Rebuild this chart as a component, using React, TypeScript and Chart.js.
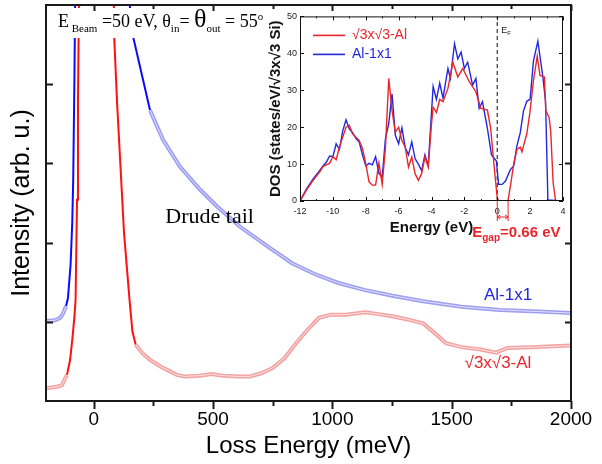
import React, { useEffect, useRef } from "react";
import { Chart, registerables } from "chart.js";

Chart.register(...registerables);

const SANS = "'Liberation Sans', Arial, Helvetica, sans-serif";
const SERIF = "'Liberation Serif', 'Times New Roman', serif";

// ---------- main EELS spectra ----------
const lossTicks = [0, 500, 1000, 1500, 2000];
const lossMinorTicks = [250, 750, 1250, 1750];
const intensityTicks = [1, 2, 3, 4];

const al1x1Loss = [-200, -162, -141, -129, -116, -108, -97, -90, -86, -81, -78, 0, 140, 165, 194, 236, 290, 361, 445, 516, 613, 739, 831, 928, 1025, 1138, 1251, 1380, 1541, 1702, 1863, 2000];
const al1x1Int = [1.01, 1.02, 1.05, 1.1, 1.2, 1.3, 1.72, 2.25, 2.79, 4.05, 5.0, 60, 5.3, 4.6, 4.22, 3.67, 3.3, 2.96, 2.67, 2.46, 2.2, 1.93, 1.74, 1.6, 1.49, 1.4, 1.33, 1.26, 1.19, 1.15, 1.13, 1.11];

const r3Loss = [-200, -154, -133, -112, -99, -90, -81, -76, -70, -66, -62, 0, 85, 98, 118, 127, 150, 162, 176, 205, 236, 283, 316, 348, 380, 445, 493, 541, 606, 654, 703, 751, 799, 848, 896, 944, 993, 1057, 1138, 1186, 1251, 1315, 1380, 1428, 1476, 1541, 1621, 1686, 1734, 1831, 1927, 2000];
const r3Int = [0.16, 0.18, 0.2, 0.33, 0.52, 0.77, 1.06, 1.28, 2.54, 3.8, 5.0, 60, 4.65, 3.76, 2.63, 2.12, 1.28, 0.88, 0.71, 0.6, 0.52, 0.43, 0.38, 0.33, 0.31, 0.32, 0.34, 0.32, 0.31, 0.31, 0.35, 0.42, 0.54, 0.73, 0.9, 1.05, 1.09, 1.09, 1.12, 1.1, 1.07, 1.03, 0.98, 0.86, 0.73, 0.68, 0.65, 0.61, 0.67, 0.68, 0.69, 0.7];

// ---------- inset DOS ----------
const energyTicks = [-12, -10, -8, -6, -4, -2, 0, 2, 4];
const energyMinorTicks = [-11, -9, -7, -5, -3, -1, 1, 3];
const dosTicks = [0, 10, 20, 30, 40, 50];
const gapEnd = 0.66;

const dosR3E = [-12, -11.6, -11.2, -10.8, -10.6, -10.4, -10.2, -10.0, -9.8, -9.6, -9.4, -9.2, -9.0, -8.8, -8.6, -8.4, -8.2, -8.0, -7.8, -7.6, -7.4, -7.2, -7.0, -6.8, -6.6, -6.4, -6.2, -6.0, -5.8, -5.6, -5.4, -5.2, -5.0, -4.8, -4.6, -4.4, -4.2, -4.0, -3.9, -3.7, -3.5, -3.3, -3.0, -2.7, -2.4, -2.1, -1.7, -1.3, -1.0, -0.6, -0.4, -0.16, 0, 0.1, 0.65, 0.8, 1.0, 1.2, 1.4, 1.5, 1.6, 1.8, 2.0, 2.2, 2.43, 2.6, 2.87, 2.95, 3.15, 3.25, 3.4, 3.55, 4.0];
const dosR3V = [0, 3, 5.6, 7.9, 9.3, 9.8, 10.2, 12, 11.2, 14.6, 17.3, 20, 20.5, 18.2, 17.3, 16.4, 14.2, 10.1, 5.2, 4.3, 4.3, 10.3, 4.5, 14.6, 33.2, 24.5, 18.6, 20, 16.4, 14.6, 9.2, 11.9, 7.4, 5.6, 7.4, 11.9, 9.2, 20.9, 25.4, 24, 27.5, 26.9, 30.5, 37.6, 33.6, 35.9, 32.3, 29.6, 25.1, 24.6, 19.7, 8, 0.8, 0, 0, 4, 10, 14, 14.6, 13.3, 15, 18.2, 24.5, 32.5, 39.2, 34, 33.6, 24.5, 22.7, 19, 5, 0, 0];

const dosAlE = [-12, -11.6, -11.2, -10.8, -10.6, -10.4, -10.2, -10.0, -9.8, -9.6, -9.4, -9.2, -9.0, -8.8, -8.6, -8.4, -8.2, -8.0, -7.8, -7.6, -7.4, -7.2, -7.0, -6.8, -6.6, -6.4, -6.2, -6.0, -5.8, -5.6, -5.4, -5.2, -5.0, -4.8, -4.6, -4.4, -4.2, -4.0, -3.9, -3.7, -3.5, -3.3, -3.0, -2.85, -2.6, -2.4, -2.2, -2.0, -1.8, -1.5, -1.3, -1.1, -0.9, -0.6, -0.35, -0.05, 0.08, 0.3, 0.5, 0.8, 1.0, 1.2, 1.4, 1.6, 1.8, 2.0, 2.2, 2.47, 2.78, 2.94, 3.08, 4.0];
const dosAlV = [0, 3.3, 6, 8.3, 9.5, 10.5, 12.2, 12, 15.5, 14, 19, 22, 19.5, 18.5, 17, 16, 12.5, 9.5, 10.2, 9.8, 12, 7.5, 6.5, 17, 21, 29, 17.8, 15.5, 19.8, 14.5, 12.5, 16, 11.5, 10, 8.2, 12.5, 9.5, 24, 31, 27.5, 31.9, 27.9, 35.9, 33.2, 42.6, 38.5, 40.3, 35.9, 37.6, 31.4, 33.2, 25.1, 26.9, 19.7, 12.5, 10.8, 4.5, 4.5, 5.4, 8.5, 9.5, 15, 18.5, 24.5, 27, 27.6, 37.9, 43.3, 33.4, 27, 0.3, 0];

const RED = "#e8262b";
const BLUE = "#2327e0";

const pts = (xs: number[], ys: number[]) => xs.map((x, i) => ({ x, y: ys[i] }));

const isSteep = (c: any) => {
  const dx = Math.abs(c.p1.x - c.p0.x);
  const dy = Math.abs(c.p1.y - c.p0.y);
  return dy > 2.6 * dx;
};

const bandSet = (data: any[], strong: string, pale: string) => ({
  data,
  pointRadius: 0,
  borderColor: pale,
  borderWidth: 4,
  segment: {
    borderColor: (c: any) => (isSteep(c) ? strong : pale),
    borderWidth: (c: any) => (isSteep(c) ? 2 : 4),
  },
});
const innerSet = (data: any[]) => ({
  data,
  pointRadius: 0,
  borderColor: "rgba(255,255,255,0.7)",
  borderWidth: 1,
  segment: {
    borderColor: (c: any) => (isSteep(c) ? "rgba(0,0,0,0)" : "rgba(255,255,255,0.7)"),
  },
});

const mainDecor = {
  id: "mainDecor",
  afterDatasetsDraw(chart: any) {
    const { ctx, chartArea: a, scales } = chart;
    const x = scales.x, y = scales.y;
    ctx.save();
    // annotation with white background
    ctx.fillStyle = "#fff";
    ctx.fillRect(a.left + 6, a.top + 3, 218, 30);
    const runs = [
      { t: "E", s: 18, dy: 0 },
      { t: " Beam", s: 11, dy: 5 },
      { t: " =50 eV, θ", s: 18, dy: 0 },
      { t: "in", s: 11, dy: 5 },
      { t: "= ", s: 18, dy: 0 },
      { t: "θ", s: 26, dy: 0 },
      { t: "out", s: 11, dy: 5 },
      { t: " = 55", s: 18, dy: 0 },
      { t: "o", s: 11, dy: -7 },
    ];
    let cx = a.left + 12;
    const base = a.top + 22;
    ctx.fillStyle = "#000";
    ctx.textBaseline = "alphabetic";
    ctx.textAlign = "left";
    for (const r of runs) {
      ctx.font = `${r.s}px ${SERIF}`;
      ctx.fillText(r.t, cx, base + r.dy);
      cx += ctx.measureText(r.t).width;
    }
    // labels
    ctx.font = `22px ${SERIF}`;
    ctx.fillText("Drude tail", x.getPixelForValue(300), y.getPixelForValue(2.25));
    ctx.textAlign = "center";
    ctx.textBaseline = "middle";
    ctx.font = `17px ${SANS}`;
    ctx.fillStyle = BLUE;
    ctx.fillText("Al-1x1", x.getPixelForValue(1736), y.getPixelForValue(1.34));
    ctx.fillStyle = RED;
    ctx.fillText("√3x√3-Al", x.getPixelForValue(1694), y.getPixelForValue(0.47));
    ctx.restore();
  },
  afterDraw(chart: any) {
    const { ctx, chartArea: a, scales } = chart;
    const x = scales.x, y = scales.y;
    ctx.save();
    ctx.strokeStyle = "#1a1a1a";
    ctx.lineWidth = 2;
    ctx.strokeRect(a.left, a.top, a.right - a.left, a.bottom - a.top);
    ctx.beginPath();
    for (const v of lossTicks) {
      const px = Math.round(x.getPixelForValue(v)) + 0.5;
      ctx.moveTo(px, a.bottom); ctx.lineTo(px, a.bottom + 8);
      ctx.moveTo(px, a.top); ctx.lineTo(px, a.top + 6);
    }
    for (const v of lossMinorTicks) {
      const px = Math.round(x.getPixelForValue(v)) + 0.5;
      ctx.moveTo(px, a.bottom); ctx.lineTo(px, a.bottom + 5);
      ctx.moveTo(px, a.top); ctx.lineTo(px, a.top + 4);
    }
    for (const v of intensityTicks) {
      const py = Math.round(y.getPixelForValue(v)) + 0.5;
      ctx.moveTo(a.left, py); ctx.lineTo(a.left + 7, py);
      ctx.moveTo(a.right, py); ctx.lineTo(a.right - 6, py);
    }
    ctx.stroke();
    ctx.restore();
  },
};

const insetDecor = {
  id: "insetDecor",
  beforeDraw(chart: any) {
    const { ctx, chartArea: a } = chart;
    ctx.save();
    ctx.fillStyle = "#fff";
    ctx.fillRect(a.left, a.top, a.right - a.left, a.bottom - a.top);
    ctx.restore();
  },
  beforeDatasetsDraw(chart: any) {
    const { ctx, chartArea: a, scales } = chart;
    const x = scales.x;
    const x0 = x.getPixelForValue(0);
    ctx.save();
    ctx.strokeStyle = "#333";
    ctx.lineWidth = 1.2;
    ctx.setLineDash([4, 3]);
    ctx.beginPath();
    ctx.moveTo(x0, a.bottom);
    ctx.lineTo(x0, a.top);
    ctx.stroke();
    ctx.setLineDash([]);
    ctx.fillStyle = "#222";
    ctx.textBaseline = "alphabetic";
    ctx.textAlign = "left";
    ctx.font = `9px ${SANS}`;
    ctx.fillText("E", x0 + 4, a.top + 17);
    const w = ctx.measureText("E").width;
    ctx.font = `6px ${SANS}`;
    ctx.fillText("F", x0 + 4 + w, a.top + 19);
    ctx.restore();
  },
  afterDraw(chart: any) {
    const { ctx, chartArea: a, scales } = chart;
    const x = scales.x, y = scales.y;
    ctx.save();
    ctx.strokeStyle = "#111";
    ctx.lineWidth = 1;
    ctx.strokeRect(a.left + 0.5, a.top + 0.5, a.right - a.left - 1, a.bottom - a.top - 1);
    ctx.beginPath();
    for (const v of energyTicks) {
      const px = Math.round(x.getPixelForValue(v)) + 0.5;
      ctx.moveTo(px, a.bottom); ctx.lineTo(px, a.bottom - 4);
      ctx.moveTo(px, a.top); ctx.lineTo(px, a.top + 4);
    }
    for (const v of energyMinorTicks) {
      const px = Math.round(x.getPixelForValue(v)) + 0.5;
      ctx.moveTo(px, a.bottom); ctx.lineTo(px, a.bottom - 2);
      ctx.moveTo(px, a.top); ctx.lineTo(px, a.top + 2);
    }
    for (const v of dosTicks) {
      const py = Math.round(y.getPixelForValue(v)) + 0.5;
      ctx.moveTo(a.left, py); ctx.lineTo(a.left + 4, py);
      ctx.moveTo(a.right, py); ctx.lineTo(a.right - 4, py);
    }
    ctx.stroke();

    // legend
    ctx.lineWidth = 1.6;
    ctx.strokeStyle = RED;
    ctx.beginPath();
    ctx.moveTo(a.left + 13, a.top + 19); ctx.lineTo(a.left + 45, a.top + 19);
    ctx.stroke();
    ctx.strokeStyle = BLUE;
    ctx.beginPath();
    ctx.moveTo(a.left + 13, a.top + 38); ctx.lineTo(a.left + 45, a.top + 38);
    ctx.stroke();
    ctx.font = `14px ${SANS}`;
    ctx.textBaseline = "middle";
    ctx.textAlign = "left";
    ctx.fillStyle = RED;
    ctx.fillText("√3x√3-Al", a.left + 52, a.top + 19);
    ctx.fillStyle = BLUE;
    ctx.fillText("Al-1x1", a.left + 52, a.top + 38);

    // gap bracket
    const g0 = x.getPixelForValue(0);
    const g1 = x.getPixelForValue(gapEnd);
    ctx.strokeStyle = RED;
    ctx.lineWidth = 1;
    ctx.beginPath();
    ctx.moveTo(g0, a.bottom); ctx.lineTo(g0, a.bottom + 20);
    ctx.moveTo(g1, a.bottom); ctx.lineTo(g1, a.bottom + 20);
    const hy = a.bottom + 16;
    ctx.moveTo(g0, hy); ctx.lineTo(g1, hy);
    ctx.moveTo(g0 + 3, hy - 2); ctx.lineTo(g0, hy); ctx.lineTo(g0 + 3, hy + 2);
    ctx.moveTo(g1 - 3, hy - 2); ctx.lineTo(g1, hy); ctx.lineTo(g1 - 3, hy + 2);
    ctx.stroke();
    ctx.fillStyle = RED;
    ctx.textBaseline = "alphabetic";
    let tx = g0 - 25;
    const tb = a.bottom + 36;
    ctx.font = `bold 15px ${SANS}`;
    ctx.fillText("E", tx, tb);
    tx += ctx.measureText("E").width;
    ctx.font = `bold 10px ${SANS}`;
    ctx.fillText("gap", tx, tb + 4);
    tx += ctx.measureText("gap").width;
    ctx.font = `bold 15px ${SANS}`;
    ctx.fillText("=0.66 eV", tx, tb);
    ctx.restore();
  },
};

export default function App() {
  const mainRef = useRef<HTMLCanvasElement>(null);
  const insetRef = useRef<HTMLCanvasElement>(null);

  useEffect(() => {
    document.body.style.margin = "0";
    document.body.style.overflow = "hidden";
    const blue = pts(al1x1Loss, al1x1Int);
    const red = pts(r3Loss, r3Int);

    const main = new Chart(mainRef.current as HTMLCanvasElement, {
      type: "line",
      data: {
        datasets: [
          innerSet(blue),
          bandSet(blue, "#0a0aff", "#9d9df2"),
          innerSet(red),
          bandSet(red, "#ff1010", "#f3a2a2"),
        ] as any,
      },
      options: {
        animation: false,
        responsive: false,
        maintainAspectRatio: false,
        parsing: false,
        layout: { padding: { left: 0, right: 31, top: 5, bottom: 0 } },
        plugins: { legend: { display: false }, tooltip: { enabled: false } },
        scales: {
          x: {
            type: "linear",
            min: -200,
            max: 2000,
            afterBuildTicks: (s: any) => { s.ticks = lossTicks.map((v) => ({ value: v })); },
            afterFit: (s: any) => { s.height = 63; },
            grid: { display: false, drawTicks: false },
            border: { display: false },
            ticks: { color: "#000", font: { family: SANS, size: 19 }, padding: 7, maxRotation: 0, callback: (v: any) => String(v) },
            title: { display: true, text: "Loss Energy (meV)", color: "#000", font: { family: SANS, size: 24 }, padding: { top: 0, bottom: 3 } },
          },
          y: {
            type: "linear",
            min: 0,
            max: 5,
            afterBuildTicks: (s: any) => { s.ticks = intensityTicks.map((v) => ({ value: v })); },
            afterFit: (s: any) => { s.width = 46; },
            grid: { display: false, drawTicks: false },
            border: { display: false },
            ticks: { display: false },
            title: { display: true, text: "Intensity (arb. u.)", color: "#000", font: { family: SANS, size: 25 }, padding: { top: 7, bottom: 0 } },
          },
        },
      } as any,
      plugins: [mainDecor],
    });

    const inset = new Chart(insetRef.current as HTMLCanvasElement, {
      type: "line",
      data: {
        datasets: [
          { data: pts(dosR3E, dosR3V), borderColor: RED, borderWidth: 1.4, pointRadius: 0 },
          { data: pts(dosAlE, dosAlV), borderColor: BLUE, borderWidth: 1.4, pointRadius: 0 },
        ],
      },
      options: {
        animation: false,
        responsive: false,
        maintainAspectRatio: false,
        parsing: false,
        layout: { padding: { left: 0, right: 9, top: 7, bottom: 0 } },
        plugins: { legend: { display: false }, tooltip: { enabled: false } },
        scales: {
          x: {
            type: "linear",
            min: -12,
            max: 4,
            afterBuildTicks: (s: any) => { s.ticks = energyTicks.map((v) => ({ value: v })); },
            afterFit: (s: any) => { s.height = 47; },
            grid: { display: false, drawTicks: false },
            border: { display: false },
            ticks: { color: "#222", font: { family: SANS, size: 9 }, padding: 5, maxRotation: 0, callback: (v: any) => String(v) },
            title: { display: true, text: "Energy (eV)", color: "#111", font: { family: SANS, size: 15, weight: "bold" }, padding: { top: 0, bottom: 11 } },
          },
          y: {
            type: "linear",
            min: 0,
            max: 50,
            afterBuildTicks: (s: any) => { s.ticks = dosTicks.map((v) => ({ value: v })); },
            afterFit: (s: any) => { s.width = 38; },
            grid: { display: false, drawTicks: false },
            border: { display: false },
            ticks: { color: "#222", font: { family: SANS, size: 9 }, padding: 3, callback: (v: any) => String(v) },
            title: { display: true, text: "DOS (states/eV/√3x√3 Si)", color: "#111", font: { family: SANS, size: 15, weight: "bold" }, padding: { top: 5, bottom: 0 } },
          },
        },
      } as any,
      plugins: [insetDecor],
    });

    return () => {
      main.destroy();
      inset.destroy();
    };
  }, []);

  return (
    <div style={{ position: "relative", width: 602, height: 464, background: "#fff", overflow: "hidden" }}>
      <canvas ref={mainRef} width={602} height={464} style={{ position: "absolute", left: 0, top: 0, width: 602, height: 464 }} />
      <canvas ref={insetRef} width={310} height={240} style={{ position: "absolute", left: 262, top: 8, width: 310, height: 240 }} />
    </div>
  );
}
